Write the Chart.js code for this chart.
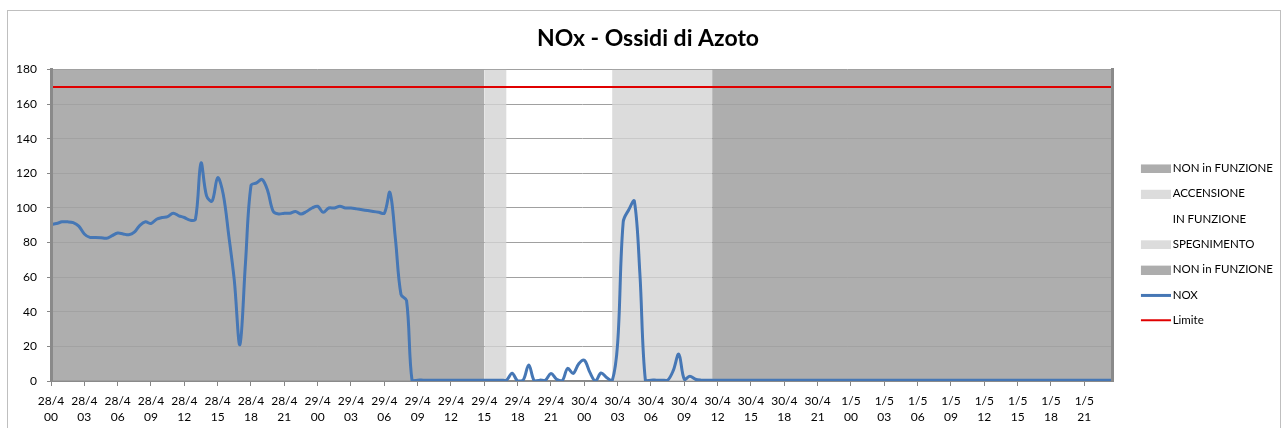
<!DOCTYPE html>
<html>
<head>
<meta charset="utf-8">
<title>NOx - Ossidi di Azoto</title>
<script src="https://cdn.jsdelivr.net/npm/chart.js@4.4.1/dist/chart.umd.min.js"></script>
<style>
  html, body { margin: 0; padding: 0; background: #fff; overflow: hidden; }
  #frame { position: absolute; left: 7px; top: 10px; width: 1272px; height: 440px; border: 1px solid #bfbfbf; }
  #wrap { position: absolute; left: 0; top: 0; width: 1290px; height: 428px; }
</style>
</head>
<body>
<div id="frame"></div>
<div id="wrap"><canvas id="noxChart"></canvas></div>
<script>
// Fasce di funzionamento dell'impianto (ore dalle 00 del 28/4)
const bandLabels = ['NON in FUNZIONE', 'ACCENSIONE', 'IN FUNZIONE', 'SPEGNIMENTO', 'NON in FUNZIONE'];
const bandStart = [0, 39, 41, 50.5, 59.5];
const bandEnd = [39, 41, 50.5, 59.5, 95.5];
const bandTop = 180;

// Etichette asse X (ogni 3 ore)
const tickDays = ['28/4', '29/4', '30/4', '1/5'];
const tickHours = ['00', '03', '06', '09', '12', '15', '18', '21'];

const limitValue = 170;
const stepHours = 0.5;   // una misura ogni mezz'ora

// NOX, valori semiorari dal 28/4 00:00
const noxValues = [
  90.5, 91, 92, 92, 91.5, 89.5, 85, 83, 83, 82.8,
  82.5, 84, 85.5, 85, 84.5, 86, 90, 92, 91, 93.5,
  94.5, 95, 97, 95.5, 94.5, 93, 93.5, 126, 107, 104,
  117.5, 108, 84, 58, 21, 68, 113, 114.5, 116.5, 110,
  98, 96.5, 97, 97, 98, 96.5, 98, 100, 101, 97.5,
  100, 100, 101, 100, 100, 99.5, 99, 98.5, 98, 97.5,
  97, 109, 82, 50, 46.5, 0, 0.5, 0.5, 0.5, 0.5,
  0.5, 0.5, 0.5, 0.5, 0.5, 0.5, 0.5, 0.5, 0.5, 0.5,
  0.5, 0.5, 0.5, 4.5, 0, 0.5, 9.3, 0, 0.5, 0.5,
  4.4, 1, 0, 7.3, 4.4, 10, 12, 5, 0, 4.6,
  2, 0, 22, 92, 99, 104, 62, 0, 0.5, 0.5,
  0.5, 0.5, 6, 15.5, 1, 2.7, 1, 0.5, 0.5, 0.5,
  0.5, 0.5, 0.5, 0.5, 0.5, 0.5, 0.5, 0.5, 0.5, 0.5, 0.5, 0.5,
  0.5, 0.5, 0.5, 0.5, 0.5, 0.5, 0.5, 0.5, 0.5, 0.5, 0.5, 0.5,
  0.5, 0.5, 0.5, 0.5, 0.5, 0.5, 0.5, 0.5, 0.5, 0.5, 0.5, 0.5,
  0.5, 0.5, 0.5, 0.5, 0.5, 0.5, 0.5, 0.5, 0.5, 0.5, 0.5, 0.5,
  0.5, 0.5, 0.5, 0.5, 0.5, 0.5, 0.5, 0.5, 0.5, 0.5, 0.5, 0.5,
  0.5, 0.5, 0.5, 0.5, 0.5, 0.5, 0.5, 0.5, 0.5, 0.5, 0.5, 0.5
];

const lastHour = (noxValues.length - 1) * stepHours;

// colori
const bandFills = ['rgba(162,162,162,0.87)', 'rgba(211,211,211,0.8)', 'rgba(255,255,255,0)', 'rgba(211,211,211,0.8)', 'rgba(162,162,162,0.87)'];
const bandSwatch = ['#adadad', '#dcdcdc', null, '#dcdcdc', '#adadad'];
const noxColor = '#4677b5';
const limitColor = '#e00000';

Chart.defaults.font.family = 'Lato';
Chart.defaults.color = '#000';

// piccoli canvas usati come simbolo della legenda (rettangolo o linea)
function makeSwatch(color, h) {
  const c = document.createElement('canvas');
  c.width = 49;
  c.height = 10;
  const g = c.getContext('2d');
  if (color) {
    g.fillStyle = color;
    g.fillRect(19, Math.round((10 - h) / 2), 30, h);
  }
  return c;
}
const swatches = bandSwatch.map(col => makeSwatch(col, 9));
swatches.push(makeSwatch(noxColor, 3));
swatches.push(makeSwatch(limitColor, 2));

const bandSets = bandLabels.map((label, i) => ({
  label: label,
  data: [{x: bandStart[i], y: bandTop}, {x: bandEnd[i], y: bandTop}],
  borderWidth: 0,
  borderColor: 'rgba(0,0,0,0)',
  backgroundColor: bandFills[i],
  pointRadius: 0,
  fill: 'origin',
  order: 2
}));

new Chart(document.getElementById('noxChart'), {
  type: 'line',
  data: {
    datasets: [
      ...bandSets,
      {
        label: 'NOX',
        data: noxValues.map((v, i) => ({x: i * stepHours, y: v})),
        borderColor: noxColor,
        borderWidth: 3,
        pointRadius: 0,
        tension: 0.35,
        fill: false,
        order: 0
      },
      {
        label: 'Limite',
        data: [{x: 0, y: limitValue}, {x: lastHour, y: limitValue}],
        borderColor: limitColor,
        borderWidth: 2,
        pointRadius: 0,
        fill: false,
        order: 1
      }
    ]
  },
  options: {
    animation: false,
    responsive: true,
    maintainAspectRatio: false,
    devicePixelRatio: 1,
    events: [],
    layout: { padding: { top: 10, left: 13, right: 7, bottom: 0 } },
    scales: {
      x: {
        type: 'linear',
        min: 0,
        max: lastHour,
        afterFit: s => { s.height = 47; },
        grid: { drawOnChartArea: false, tickLength: 5, tickColor: '#868686' },
        border: { color: '#8a8a8a', width: 2 },
        ticks: {
          stepSize: 3,
          includeBounds: false,
          autoSkip: false,
          maxRotation: 0,
          padding: 7,
          font: { size: 12, lineHeight: 1.33 },
          callback: v => [tickDays[Math.floor(v / 24)], tickHours[(v % 24) / 3]]
        }
      },
      y: {
        min: 0,
        max: 180,
        afterFit: s => { s.width = 38; },
        grid: { color: '#a0a0a0', tickLength: 4, tickColor: '#868686' },
        border: { color: '#8a8a8a', width: 3, z: 1 },
        ticks: { stepSize: 20, padding: 10, font: { size: 12 } }
      },
      y2: {
        position: 'right',
        min: 0,
        max: 180,
        afterFit: s => { s.width = 0; },
        grid: { display: false, drawTicks: false },
        border: { color: '#8a8a8a', width: 3, z: 1 },
        ticks: { display: false }
      }
    },
    plugins: {
      tooltip: { enabled: false },
      title: {
        display: true,
        text: 'NOx - Ossidi di Azoto',
        font: { size: 23, weight: 'bold' },
        padding: { top: 15, bottom: 17 }
      },
      legend: {
        position: 'right',
        fullSize: false,
        align: 'center',
        title: { display: true, text: '', font: { size: 10 }, padding: { top: 12, bottom: 14 } },
        labels: {
          usePointStyle: true,
          pointStyleWidth: 41,
          padding: 13.8,
          font: { size: 11.5 },
          sort: (a, b) => a.datasetIndex - b.datasetIndex,
          generateLabels: chart => Chart.defaults.plugins.legend.labels.generateLabels(chart)
            .map(item => Object.assign(item, { pointStyle: swatches[item.datasetIndex] }))
        }
      }
    }
  }
});
</script>
</body>
</html>
